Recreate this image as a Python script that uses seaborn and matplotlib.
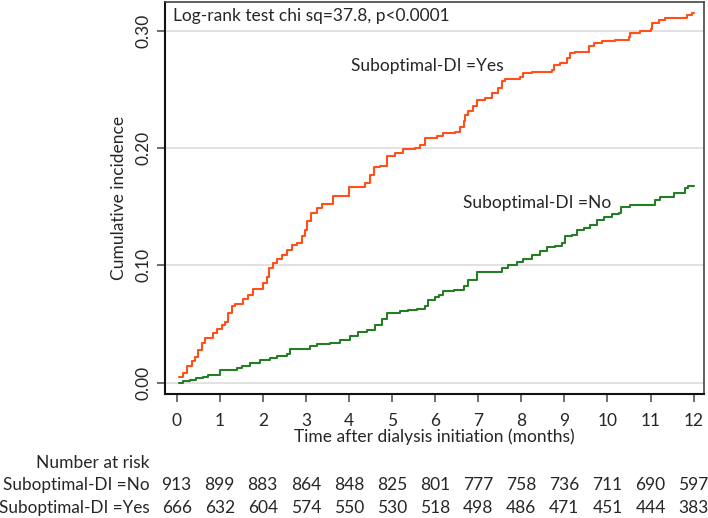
import matplotlib
matplotlib.use("Agg")
import matplotlib.pyplot as plt
import seaborn as sns
import pandas as pd

# ---- data ----
yes_time = [0.06, 0.15, 0.23, 0.35, 0.43, 0.50, 0.58, 0.66, 0.85, 0.93, 1.05, 1.12, 1.20, 1.28, 1.35,
            1.55, 1.66, 1.78, 2.01, 2.09, 2.14, 2.24, 2.32, 2.44, 2.56, 2.67, 2.79, 2.90, 2.98, 3.02,
            3.13, 3.25, 3.37, 3.64, 3.99, 4.37, 4.49, 4.57, 4.72, 4.88, 5.07, 5.26, 5.54, 5.65, 5.77,
            6.04, 6.19, 6.46, 6.58, 6.66, 6.70, 6.77, 6.89, 6.97, 7.16, 7.32, 7.47, 7.55, 7.63, 7.97,
            8.05, 8.25, 8.71, 8.75, 8.90, 9.06, 9.14, 9.25, 9.56, 9.68, 9.87, 10.18, 10.49, 10.53,
            10.76, 11.00, 11.03, 11.19, 11.34, 11.85, 11.96, 12.00]
yes_inc = [0.005, 0.008, 0.014, 0.018, 0.022, 0.028, 0.034, 0.038, 0.042, 0.046, 0.049, 0.052, 0.059, 0.065, 0.067,
           0.071, 0.075, 0.080, 0.085, 0.090, 0.098, 0.102, 0.105, 0.109, 0.113, 0.117, 0.119, 0.125, 0.130, 0.138,
           0.145, 0.149, 0.152, 0.159, 0.167, 0.170, 0.177, 0.184, 0.185, 0.193, 0.196, 0.199, 0.200, 0.203, 0.209,
           0.210, 0.213, 0.214, 0.218, 0.223, 0.228, 0.232, 0.236, 0.241, 0.243, 0.247, 0.251, 0.257, 0.259, 0.261,
           0.264, 0.265, 0.267, 0.271, 0.273, 0.277, 0.281, 0.282, 0.287, 0.290, 0.291, 0.292, 0.295, 0.298,
           0.300, 0.302, 0.307, 0.309, 0.311, 0.314, 0.315, 0.315]

no_time = [0.06, 0.15, 0.31, 0.46, 0.62, 0.73, 1.01, 1.39, 1.51, 1.70, 1.93, 2.17, 2.32, 2.56, 2.63,
           2.75, 3.10, 3.25, 3.56, 3.79, 4.03, 4.22, 4.41, 4.61, 4.76, 4.88, 5.19, 5.38, 5.57, 5.77,
           5.84, 6.00, 6.10, 6.19, 6.43, 6.66, 6.77, 6.97, 7.55, 7.70, 7.90, 8.05, 8.25, 8.44, 8.59,
           8.79, 8.94, 9.02, 9.18, 9.29, 9.45, 9.60, 9.76, 9.91, 10.10, 10.26, 10.31, 10.53, 11.11, 11.23,
           11.54, 11.70, 11.81, 11.86, 12.00]
no_inc = [0.000, 0.0015, 0.0023, 0.0037, 0.0046, 0.0066, 0.011, 0.012, 0.014, 0.017, 0.019, 0.021, 0.023, 0.0245, 0.0285,
          0.029, 0.031, 0.033, 0.034, 0.036, 0.040, 0.0435, 0.045, 0.049, 0.054, 0.059, 0.061, 0.0615, 0.063, 0.065,
          0.0705, 0.073, 0.075, 0.078, 0.079, 0.082, 0.0875, 0.094, 0.0976, 0.1004, 0.103, 0.105, 0.109, 0.112, 0.1155,
          0.1166, 0.119, 0.1246, 0.126, 0.130, 0.132, 0.1346, 0.139, 0.1416, 0.1437, 0.1445, 0.150, 0.1516, 0.156, 0.1587,
          0.1616, 0.162, 0.166, 0.168, 0.168]

risk_months = list(range(13))
risk_no = [913, 899, 883, 864, 848, 825, 801, 777, 758, 736, 711, 690, 597]
risk_yes = [666, 632, 604, 574, 550, 530, 518, 498, 486, 471, 451, 444, 383]
group_labels = ["Suboptimal-DI =No", "Suboptimal-DI =Yes"]
title_text = "Log-rank test chi sq=37.8, p<0.0001"

# ---- style ----
sns.set_style("white")
plt.rcParams["font.family"] = ["Lato", "DejaVu Sans"]
FS = 12.5
FS_ROW = 12.3
C_YES = "#FF5019"
C_NO = "#267D26"

fig = plt.figure(figsize=(7.08, 5.18), dpi=100)
ax = fig.add_axes([165 / 708, 1 - 394 / 518, (704 - 165) / 708, (394 - 2) / 518])

df_yes = pd.DataFrame({"t": yes_time, "ci": yes_inc})
df_no = pd.DataFrame({"t": no_time, "ci": no_inc})
sns.lineplot(data=df_no, x="t", y="ci", ax=ax, color=C_NO, lw=1.5, drawstyle="steps-post",
             estimator=None, sort=False)
sns.lineplot(data=df_yes, x="t", y="ci", ax=ax, color=C_YES, lw=1.5, drawstyle="steps-post",
             estimator=None, sort=False)

ax.set_xlim(-0.27, 12.24)
ax.set_ylim(-0.0098, 0.3247)
ax.set_xticks(risk_months)
ax.set_xticklabels([str(m) for m in risk_months], fontsize=FS)
ax.set_yticks([0, 0.1, 0.2, 0.3])
ax.set_yticklabels(["0.00", "0.10", "0.20", "0.30"], fontsize=FS, rotation=90, va="center")
ax.yaxis.grid(True, color="#dddddd", lw=1.2)
ax.set_axisbelow(True)
ax.tick_params(axis="both", direction="out", length=6, width=1.2, color="#555555",
               left=True, bottom=True)
ax.tick_params(axis="x", pad=8)
ax.tick_params(axis="y", pad=4)
for s in ["left", "bottom"]:
    ax.spines[s].set_color("#111111")
    ax.spines[s].set_linewidth(1.5)
for s in ["top", "right"]:
    ax.spines[s].set_color("#444444")
    ax.spines[s].set_linewidth(1.2)

ax.set_xlabel("Time after dialysis initiation (months)", fontsize=FS, labelpad=-1)
ax.set_ylabel("Cumulative incidence", fontsize=FS, labelpad=6)

ax.text(0.015, 0.965, title_text, transform=ax.transAxes, fontsize=FS, va="center", ha="left")
ax.text(4.05, 0.27, group_labels[1], fontsize=FS, va="center", ha="left")
ax.text(6.65, 0.153, group_labels[0], fontsize=FS, va="center", ha="left")

# ---- number at risk table ----
xt = ax.get_xaxis_transform()
fig.text(150 / 708, 1 - 463 / 518, "Number at risk", fontsize=FS, ha="right", va="center")
fig.text(150 / 708, 1 - 485 / 518, group_labels[0], fontsize=FS_ROW, ha="right", va="center")
fig.text(150 / 708, 1 - 508 / 518, group_labels[1], fontsize=FS_ROW, ha="right", va="center")
y_no = (394 - 485) / 392
y_yes = (394 - 508) / 392
for m, a, b in zip(risk_months, risk_no, risk_yes):
    ax.text(m, y_no, str(a), transform=xt, fontsize=FS, ha="center", va="center", clip_on=False)
    ax.text(m, y_yes, str(b), transform=xt, fontsize=FS, ha="center", va="center", clip_on=False)

fig.savefig("out.png", dpi=100)
